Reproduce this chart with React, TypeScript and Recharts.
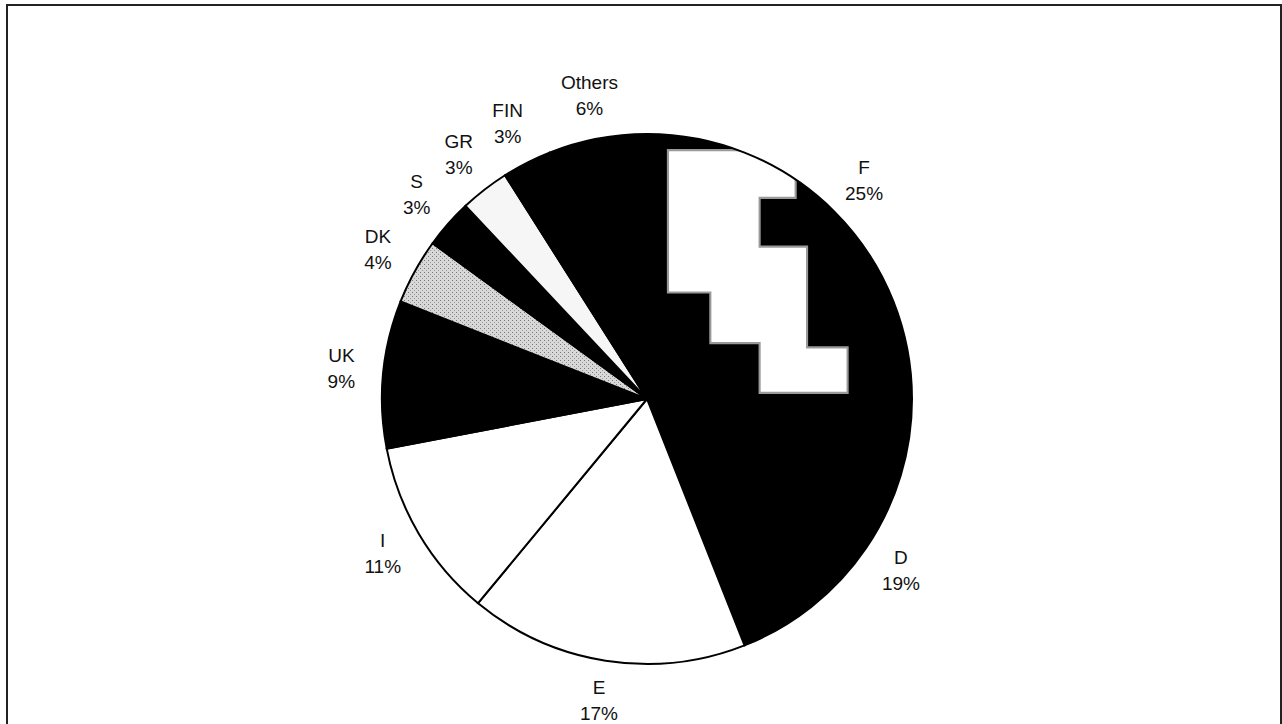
import React from 'react';
import { PieChart, Pie, Cell } from 'recharts';

const countries = ['F', 'D', 'E', 'I', 'UK', 'DK', 'S', 'GR', 'FIN', 'Others'];
const shares = [25, 19, 17, 11, 9, 4, 3, 3, 3, 6];
const fills = ['url(#fSteps)', '#000000', '#ffffff', '#ffffff', '#000000', 'url(#dkDots)', '#000000', '#f6f6f6', '#000000', '#000000'];

const data = countries.map((name, i) => ({ name, value: shares[i] }));

const RAD = Math.PI / 180;

const renderLabel = (props: any) => {
  const { cx, cy, midAngle, outerRadius, name, value } = props;
  const r = outerRadius + 42;
  const x = cx + r * Math.cos(-midAngle * RAD);
  const y = cy + r * Math.sin(-midAngle * RAD);
  return (
    <text
      x={x}
      y={y}
      textAnchor="middle"
      fill="#111"
      fontSize={19}
      fontFamily="'Liberation Sans', Arial, sans-serif"
    >
      <tspan x={x} y={y - 8}>{name}</tspan>
      <tspan x={x} y={y + 18}>{value}%</tspan>
    </text>
  );
};

const App: React.FC = () => {
  return (
    <div style={{ position: 'absolute', left: 0, top: 0, width: 1282, height: 724, overflow: 'hidden', background: '#fff' }}>
      <div
        style={{
          position: 'absolute',
          left: 6,
          top: 4,
          width: 1272,
          height: 730,
          border: '2px solid #222',
        }}
      />
      <PieChart width={1282} height={724}>
        <defs>
          {/* staircase texture of the F slice, in the slice's own bounding box */}
          <pattern id="fSteps" patternUnits="objectBoundingBox" patternContentUnits="objectBoundingBox" width="1" height="1">
            <rect x="0" y="0" width="1" height="1" fill="#000" />
            <polygon
              points="0.079,0.061 0.561,0.061 0.561,0.241 0.425,0.241 0.425,0.425 0.604,0.425 0.604,0.805 0.757,0.805 0.757,0.977 0.425,0.977 0.425,0.789 0.239,0.789 0.239,0.598 0.079,0.598"
              fill="#fff"
              stroke="#9a9a9a"
              strokeWidth="0.008"
            />
          </pattern>
          <pattern id="dkDots" patternUnits="userSpaceOnUse" width="4" height="4">
            <rect x="0" y="0" width="4" height="4" fill="#d8d8d8" />
            <rect x="0" y="0" width="1" height="1" fill="#777" />
            <rect x="2" y="2" width="1" height="1" fill="#999" />
          </pattern>
        </defs>
        <Pie
          data={data}
          dataKey="value"
          nameKey="name"
          cx={642}
          cy={394}
          outerRadius={265}
          startAngle={90}
          endAngle={-270}
          stroke="#000"
          strokeWidth={2}
          labelLine={false}
          label={renderLabel}
          isAnimationActive={false}
        >
          {data.map((entry, index) => (
            <Cell key={`cell-${index}`} fill={fills[index]} />
          ))}
        </Pie>
      </PieChart>
    </div>
  );
};

export default App;
